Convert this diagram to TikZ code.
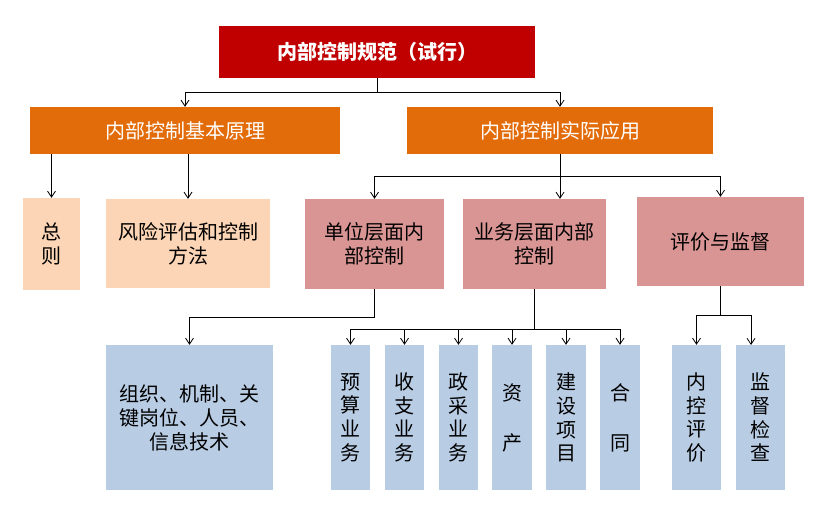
\documentclass[tikz,border=0pt]{standalone}
\usepackage{fontspec}
\setmainfont{Noto Sans CJK SC}
\usetikzlibrary{arrows.meta}
\definecolor{topred}{RGB}{192,0,0}
\definecolor{orng}{RGB}{227,108,10}
\definecolor{peach}{RGB}{251,213,181}
\definecolor{rose}{RGB}{217,149,148}
\definecolor{lblue}{RGB}{184,204,228}
\tikzset{
  box/.style={draw=none, inner sep=0pt, align=center, font=\fontsize{20}{24}\selectfont},
  vbox/.style={box, fill=lblue, minimum height=145pt},
  arr/.style={line width=0.8pt, black, -{Straight Barb[length=6pt,width=8pt,line width=0.8pt]}},
  ln/.style={line width=0.8pt, black}
}
\begin{document}
\begin{tikzpicture}[x=1pt,y=-1pt]
\useasboundingbox (0,0) rectangle (821,504);
% level 0
\node[box, fill=topred, text=white, font=\fontsize{20}{24}\selectfont\bfseries, minimum width=316pt, minimum height=52pt] (top) at (377,52) {内部控制规范（试行）};
% level 1
\node[box, fill=orng, text=white, minimum width=310pt, minimum height=47pt] (basic) at (185,130.5) {内部控制基本原理};
\node[box, fill=orng, text=white, minimum width=306pt, minimum height=47pt] (apply) at (560,130.5) {内部控制实际应用};
% level 2
\node[box, fill=peach, minimum width=57pt, minimum height=92pt] (zongze) at (51.5,244) {总\\则};
\node[box, fill=peach, minimum width=164pt, minimum height=89pt] (fengxian) at (188,243.5) {风险评估和控制\\方法};
\node[box, fill=rose, minimum width=139pt, minimum height=90pt] (danwei) at (374.5,244) {单位层面内\\部控制};
\node[box, fill=rose, minimum width=143pt, minimum height=90pt] (yewu) at (534.5,244) {业务层面内部\\控制};
\node[box, fill=rose, minimum width=167pt, minimum height=89pt] (pingjia) at (720.5,241.5) {评价与监督};
% level 3
\node[vbox, minimum width=167pt] (zuzhi) at (189.5,417.5) {组织、机制、关\\键岗位、人员、\\信息技术};
\node[vbox, minimum width=39pt, font=\fontsize{20}{23.7}\selectfont] (s1) at (350.5,417.5) {预\\算\\业\\务};
\node[vbox, minimum width=39pt, font=\fontsize{20}{23.7}\selectfont] (s2) at (404.5,417.5) {收\\支\\业\\务};
\node[vbox, minimum width=39pt, font=\fontsize{20}{23.7}\selectfont] (s3) at (458.5,417.5) {政\\采\\业\\务};
\node[vbox, minimum width=40pt, font=\fontsize{20}{24}\selectfont] (s4) at (512,417.5) {资\\[26pt]产};
\node[vbox, minimum width=40pt, font=\fontsize{20}{23.7}\selectfont] (s5) at (566,417.5) {建\\设\\项\\目};
\node[vbox, minimum width=40pt, font=\fontsize{20}{24}\selectfont] (s6) at (620,417.5) {合\\[26pt]同};
\node[vbox, minimum width=49pt, font=\fontsize{20}{23.7}\selectfont] (nk) at (696.5,417.5) {内\\控\\评\\价};
\node[vbox, minimum width=49pt, font=\fontsize{20}{23.7}\selectfont] (jd) at (760.5,417.5) {监\\督\\检\\查};
% connectors
\coordinate (b1) at (377,92);
\draw[ln] (top.south) -- (b1);
\draw[arr] (b1) -| (basic.north);
\draw[arr] (b1) -| (apply.north);
\draw[arr] (basic.south -| zongze.north) -- (zongze.north);
\draw[arr] (basic.south -| fengxian.north) -- (fengxian.north);
\coordinate (b2) at (560,176);
\draw[arr] (apply.south) -- (apply.south |- yewu.north);
\draw[arr] (b2) -| (danwei.north);
\draw[arr] (b2) -| (pingjia.north);
\coordinate (b3) at (374.5,317);
\draw[ln] (danwei.south) -- (b3);
\draw[arr] (b3) -| (zuzhi.north);
\coordinate (b4) at (534.5,329);
\draw[ln] (yewu.south) -- (b4);
\foreach \n in {s1,s2,s3,s4,s5,s6} \draw[arr] (b4) -| (\n.north);
\coordinate (b5) at (720.5,315);
\coordinate (jdin) at (751,345);
\draw[ln] (pingjia.south) -- (b5);
\draw[arr] (b5) -| (nk.north);
\draw[arr] (b5) -| (jdin);
\end{tikzpicture}
\end{document}
